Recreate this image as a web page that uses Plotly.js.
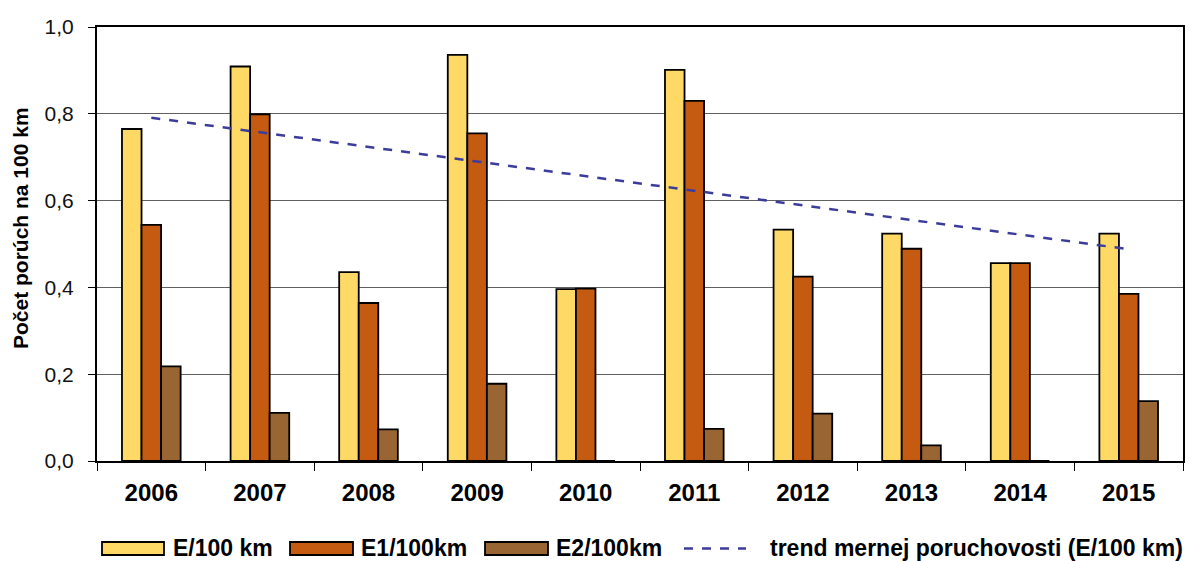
<!DOCTYPE html>
<html>
<head>
<meta charset="utf-8">
<script src="https://cdn.plot.ly/plotly-3.0.1.min.js"></script>
<style>
  html, body { margin: 0; padding: 0; background: #fff; }
  #chart { width: 1189px; height: 561px; }
</style>
</head>
<body>
<div id="chart"></div>
<script>
// Failure rates per 100 km of line, 2006–2015
const years = ['2006', '2007', '2008', '2009', '2010', '2011', '2012', '2013', '2014', '2015'];
const eRate  = [0.765, 0.909, 0.435, 0.936, 0.396, 0.901, 0.533, 0.524, 0.456, 0.524];
const e1Rate = [0.544, 0.799, 0.364, 0.755, 0.397, 0.830, 0.425, 0.489, 0.456, 0.385];
const e2Rate = [0.218, 0.111, 0.073, 0.178, 0.000, 0.074, 0.109, 0.036, 0.000, 0.138];

// Linear trend of E/100 km, given by its end points
const trendYears = ['2006', '2015'];
const trendValues = [0.791, 0.488];

const seriesNames = ['E/100 km', 'E1/100km', 'E2/100km', 'trend mernej poruchovosti (E/100 km)'];
const seriesColors = ['#FFD966', '#C55A11', '#996633', '#3C3C9C'];
const yTitle = 'Počet porúch na 100 km';

const FONT = 'Liberation Sans, Arial, sans-serif';
const W = 1189, H = 561;
const M = { l: 97, r: 6, t: 27, b: 100 };
const outline = { color: '#000000', width: 1.8 };

const traces = [
  { type: 'bar', name: seriesNames[0], x: years, y: eRate,
    marker: { color: seriesColors[0], line: outline } },
  { type: 'bar', name: seriesNames[1], x: years, y: e1Rate,
    marker: { color: seriesColors[1], line: outline } },
  { type: 'bar', name: seriesNames[2], x: years, y: e2Rate,
    marker: { color: seriesColors[2], line: outline } },
  { type: 'scatter', mode: 'lines', name: seriesNames[3], x: trendYears, y: trendValues,
    line: { color: seriesColors[3], width: 2.5, dash: 'dash' } }
];

// Pixel position on the page -> paper coordinates of the plot area
const plotW = W - M.l - M.r, plotH = H - M.t - M.b;
const px = X => (X - M.l) / plotW;
const py = Y => (H - M.b - Y) / plotH;

// Legend row drawn below the axis: wide swatches like the original chart
const legendY = 548;
const swatches = [
  { x0: 102, x1: 164, text: 171 },
  { x0: 290, x1: 353, text: 359 },
  { x0: 485, x1: 548, text: 554 }
];
const shapes = [];
const annotations = [];
swatches.forEach((s, i) => {
  shapes.push({
    type: 'rect', xref: 'paper', yref: 'paper',
    x0: px(s.x0), x1: px(s.x1), y0: py(legendY + 7), y1: py(legendY - 6),
    fillcolor: seriesColors[i], line: { color: '#000000', width: 1.8 }
  });
  annotations.push({
    xref: 'paper', yref: 'paper', x: px(s.text), y: py(legendY),
    xanchor: 'left', yanchor: 'middle', showarrow: false,
    text: seriesNames[i],
    font: { family: FONT, size: 23, color: '#000000', weight: 'bold' }
  });
});
shapes.push({
  type: 'line', xref: 'paper', yref: 'paper',
  x0: px(684), x1: px(746), y0: py(legendY + 0.5), y1: py(legendY + 0.5),
  line: { color: seriesColors[3], width: 2.5, dash: 'dash' }
});
annotations.push({
  xref: 'paper', yref: 'paper', x: px(1185), y: py(legendY),
  xanchor: 'right', yanchor: 'middle', showarrow: false,
  text: seriesNames[3],
  font: { family: FONT, size: 23, color: '#000000', weight: 'bold' }
});
// Vertical axis title
annotations.push({
  xref: 'paper', yref: 'paper', x: px(20), y: py(228),
  xanchor: 'center', yanchor: 'middle', showarrow: false, textangle: -90,
  text: yTitle,
  font: { family: FONT, size: 21, color: '#000000', weight: 'bold' }
});

const layout = {
  width: W,
  height: H,
  paper_bgcolor: '#ffffff',
  plot_bgcolor: '#ffffff',
  separators: ', ',
  margin: M,
  font: { family: FONT, size: 21, color: '#111111' },
  barmode: 'group',
  bargap: 0.46,
  bargroupgap: 0,
  showlegend: false,
  shapes: shapes,
  annotations: annotations,
  xaxis: {
    type: 'category',
    showline: true, linecolor: '#000000', linewidth: 2,
    mirror: true,
    ticks: 'outside', ticklen: 8, tickcolor: '#000000', tickwidth: 1,
    tickson: 'boundaries',
    showgrid: false,
    tickfont: { family: FONT, size: 24, color: '#000000', weight: 'bold' },
    ticklabelstandoff: 9,
    automargin: false
  },
  yaxis: {
    range: [0, 1.0],
    dtick: 0.2,
    tickformat: '.1f',
    showline: true, linecolor: '#000000', linewidth: 2,
    mirror: true,
    ticks: 'outside', ticklen: 7, tickcolor: '#000000', tickwidth: 1,
    showgrid: true, gridcolor: '#606060', gridwidth: 1.2,
    zeroline: false,
    tickfont: { family: FONT, size: 21, color: '#111111' },
    ticklabelstandoff: 10,
    automargin: false
  }
};

Plotly.newPlot('chart', traces, layout, { displayModeBar: false, staticPlot: true });
</script>
</body>
</html>
